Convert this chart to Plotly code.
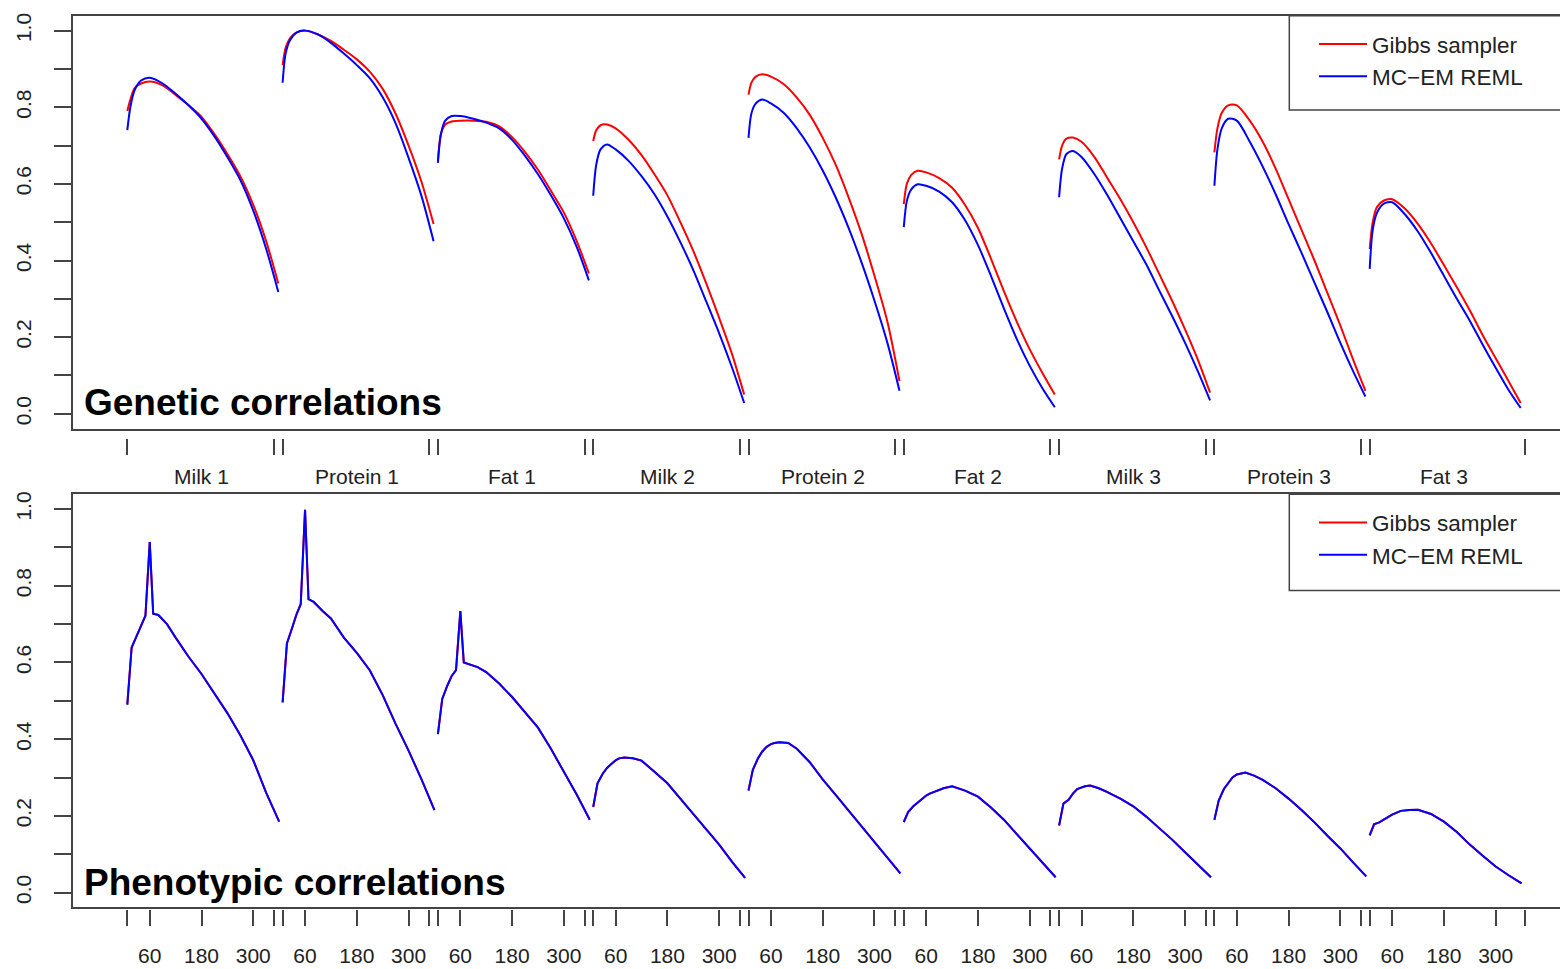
import plotly.graph_objects as go

# ---------------- data ----------------
traits = ["Milk 1", "Protein 1", "Fat 1", "Milk 2", "Protein 2", "Fat 2",
          "Milk 3", "Protein 3", "Fat 3"]
block = 360  # days per trait block on the shared x axis

gen_days = [8, 15, 25, 40, 60, 90, 120, 150, 180, 210, 240, 270, 300, 330, 358]

gen_gibbs = [
    [.79, .82, .85, .862, .867, .857, .832, .805, .775, .73, .678, .62, .545, .45, .34],
    [.91, .955, .98, .995, 1.0, .99, .973, .95, .925, .893, .848, .783, .70, .605, .495],
    [.66, .73, .755, .763, .765, .765, .762, .75, .722, .683, .637, .582, .525, .45, .366],
    [.712, .74, .753, .755, .745, .715, .675, .625, .57, .5, .425, .34, .25, .155, .05],
    [.833, .865, .88, .886, .88, .86, .825, .78, .72, .65, .565, .47, .36, .24, .085],
    [.547, .6, .623, .634, .63, .615, .59, .545, .485, .405, .32, .24, .168, .105, .05],
    [.664, .7, .718, .721, .71, .67, .615, .56, .5, .435, .365, .295, .22, .14, .055],
    [.682, .745, .785, .805, .805, .765, .71, .64, .56, .48, .4, .315, .23, .14, .06],
    [.43, .5, .54, .556, .56, .535, .495, .445, .388, .33, .27, .205, .145, .085, .028],
]

gen_mcem = [
    [.74, .80, .845, .87, .877, .862, .835, .805, .77, .724, .67, .61, .53, .43, .318],
    [.864, .94, .975, .995, 1.0, .99, .968, .94, .91, .876, .826, .758, .668, .568, .45],
    [.655, .73, .765, .777, .777, .77, .76, .745, .715, .673, .625, .57, .51, .435, .348],
    [.569, .65, .69, .703, .69, .66, .62, .573, .515, .448, .375, .293, .21, .12, .028],
    [.72, .785, .81, .82, .81, .785, .745, .695, .635, .565, .485, .395, .295, .185, .06],
    [.487, .555, .585, .599, .595, .58, .552, .505, .44, .36, .275, .195, .125, .065, .017],
    [.565, .64, .678, .686, .67, .625, .57, .51, .45, .39, .322, .255, .185, .11, .035],
    [.595, .69, .745, .77, .765, .71, .645, .573, .495, .42, .342, .265, .185, .11, .045],
    [.378, .48, .525, .548, .552, .52, .475, .42, .36, .3, .243, .18, .12, .062, .015],
]

phen_days = [8, 18, 30, 40, 50, 60, 68, 80, 100, 120, 150, 180, 210, 240, 270, 300, 330, 360]

phen_gibbs = [
    [.49, .639, .67, .695, .722, .914, .727, .724, .70, .665, .615, .57, .52, .468, .41, .345, .26, .185],
    [.496, .65, .69, .725, .752, .998, .765, .758, .735, .715, .665, .625, .58, .515, .44, .37, .295, .215],
    [.413, .505, .54, .565, .58, .734, .60, .595, .588, .575, .545, .51, .47, .43, .375, .315, .255, .19],
    [.223, .285, .31, .325, .335, .345, .35, .352, .35, .344, .315, .285, .245, .205, .168, .125, .08, .038],
    [.266, .32, .35, .368, .38, .387, .39, .392, .39, .375, .34, .295, .255, .214, .17, .13, .09, .05],
    [.184, .21, .225, .235, .245, .253, .258, .264, .272, .277, .266, .25, .222, .19, .153, .115, .078, .04],
    [.175, .232, .242, .258, .27, .274, .277, .279, .272, .262, .245, .225, .198, .168, .138, .105, .072, .04],
    [.19, .24, .27, .286, .3, .308, .31, .313, .305, .294, .272, .245, .215, .183, .148, .115, .078, .042],
    [.149, .178, .183, .19, .198, .203, .207, .213, .215, .216, .205, .185, .158, .125, .096, .068, .045, .024],
]

phen_mcem = [
    [.49, .639, .67, .695, .722, .914, .727, .724, .70, .665, .615, .57, .52, .468, .41, .345, .26, .185],
    [.496, .65, .69, .725, .752, .998, .765, .758, .735, .715, .665, .625, .58, .515, .44, .37, .295, .215],
    [.413, .505, .54, .565, .58, .734, .60, .595, .588, .575, .545, .51, .47, .43, .375, .315, .255, .19],
    [.223, .285, .31, .325, .335, .345, .35, .352, .35, .344, .315, .285, .245, .205, .168, .125, .08, .038],
    [.266, .32, .35, .368, .38, .387, .39, .392, .39, .375, .34, .295, .255, .214, .17, .13, .09, .05],
    [.184, .21, .225, .235, .245, .253, .258, .264, .272, .277, .266, .25, .222, .19, .153, .115, .078, .04],
    [.175, .232, .242, .258, .27, .274, .277, .279, .272, .262, .245, .225, .198, .168, .138, .105, .072, .04],
    [.19, .24, .27, .286, .3, .308, .31, .313, .305, .294, .272, .245, .215, .183, .148, .115, .078, .042],
    [.149, .178, .183, .19, .198, .203, .207, .213, .215, .216, .205, .185, .158, .125, .096, .068, .045, .024],
]

# axis ticks (day positions within each block)
labeled_days = [60, 180, 300]
block_start_day = 8
block_end_day = 348
name_day = 180
y_ticks = [0.0, 0.1, 0.2, 0.3, 0.4, 0.5, 0.6, 0.7, 0.8, 0.9, 1.0]
y_labels = ["0.0", "", "0.2", "", "0.4", "", "0.6", "", "0.8", "", "1.0"]

# ---------------- geometry ----------------
OFF = 8                      # browser body margin
W, H = 1568 - OFF, 969 - OFF
FONT = "Liberation Sans, Arial, Helvetica, sans-serif"
TXT = "#222222"
LINE = "#444444"
x_range = [-118.6, 3347.7]
y_range = [-0.039, 1.039]


def px_x(p):
    return (p - OFF) / W


def px_y(p):
    return 1 - (p - OFF) / H


def segs(days, rows):
    xs, ys = [], []
    for k, row in enumerate(rows):
        xs += [k * block + d for d in days] + [None]
        ys += list(row) + [None]
    return xs, ys


fig = go.Figure()

for rows, col, name in [(gen_gibbs, "red", "Gibbs sampler"), (gen_mcem, "blue", "MC\u2212EM REML")]:
    xs, ys = segs(gen_days, rows)
    fig.add_trace(go.Scatter(x=xs, y=ys, mode="lines", name=name,
                             line=dict(color=col, width=2, shape="spline", smoothing=0.8),
                             xaxis="x", yaxis="y", legend="legend", connectgaps=False))
for rows, col, name in [(phen_gibbs, "red", "Gibbs sampler"), (phen_mcem, "blue", "MC\u2212EM REML")]:
    xs, ys = segs(phen_days, rows)
    fig.add_trace(go.Scatter(x=xs, y=ys, mode="lines", name=name,
                             line=dict(color=col, width=2),
                             xaxis="x2", yaxis="y2", legend="legend2", connectgaps=False))

fig.add_trace(go.Scatter(x=[None], y=[None], xaxis="x3", yaxis="y", showlegend=False, hoverinfo="skip"))
fig.add_trace(go.Scatter(x=[None], y=[None], xaxis="x4", yaxis="y2", showlegend=False, hoverinfo="skip"))

n = len(traits)
boundary_ticks = [k * block + block_start_day for k in range(n + 1)] + \
                 [k * block + block_end_day for k in range(n - 1)]
bottom_vals = list(boundary_ticks)
bottom_text = [""] * len(boundary_ticks)
for k in range(n):
    for d in labeled_days:
        bottom_vals.append(k * block + d)
        bottom_text.append(str(d))

xdom = [px_x(72.7), 1.0]
top_dom = [px_y(427.0), px_y(12.7)]
bot_dom = [px_y(907.3), px_y(492.7)]

common_x = dict(domain=xdom, range=x_range, showgrid=False, zeroline=False,
                showline=True, mirror=True, linecolor=LINE, linewidth=1.5,
                ticks="", showticklabels=False)
common_y = dict(range=y_range, showgrid=False, zeroline=False, showline=True,
                linecolor=LINE, linewidth=1.5, tickmode="array", tickvals=y_ticks,
                ticktext=y_labels, ticks="outside", ticklen=17, tickwidth=1.5,
                tickcolor=LINE, tickangle=-90, ticklabelstandoff=15,
                tickfont=dict(family=FONT, size=21, color=TXT))

tick_axis = dict(range=x_range, showgrid=False, zeroline=False, showline=False,
                 anchor="free", ticks="outside", ticklen=16, tickwidth=1.5,
                 tickcolor=LINE, tickmode="array",
                 tickfont=dict(family=FONT, size=21, color=TXT))

leg_common = dict(xanchor="left", yanchor="top", borderwidth=0, bgcolor="rgba(0,0,0,0)",
                  font=dict(family=FONT, size=22.5, color=TXT), itemwidth=48,
                  indentation=0)

fig.update_layout(
    width=W, height=H,
    margin=dict(l=0, r=0, t=0, b=0),
    paper_bgcolor="white", plot_bgcolor="white",
    xaxis=dict(**common_x, anchor="y"),
    yaxis=dict(**common_y, domain=top_dom, anchor="x"),
    xaxis2=dict(**common_x, anchor="y2"),
    yaxis2=dict(**common_y, domain=bot_dom, anchor="x2"),
    xaxis3=dict(**tick_axis, overlaying="x", position=px_y(436.7),
                tickvals=boundary_ticks, ticktext=[""] * len(boundary_ticks)),
    xaxis4=dict(**tick_axis, overlaying="x2", position=px_y(909.0),
                tickvals=bottom_vals, ticktext=bottom_text, ticklabelstandoff=12),
    legend=dict(**leg_common, x=px_x(1314), y=px_y(20)),
    legend2=dict(**leg_common, x=px_x(1314), y=px_y(500)),
    showlegend=True,
)

# legend frames (opaque, running off the right edge like the reference)
shapes = []
for top, bot in [(12.7, 107.3), (492.7, 589.3)]:
    shapes.append(dict(type="rect", xref="paper", yref="paper",
                       x0=px_x(1289.3), x1=1.05, y0=px_y(bot), y1=px_y(top),
                       line=dict(color=LINE, width=1.5), fillcolor="white", layer="above"))
fig.update_layout(shapes=shapes)

annotations = []
for k, t in enumerate(traits):
    annotations.append(dict(x=k * block + name_day, y=px_y(475), xref="x", yref="paper",
                            text=t, showarrow=False, xanchor="center", yanchor="middle",
                            font=dict(family=FONT, size=21, color=TXT)))
annotations.append(dict(x=px_x(82), y=px_y(401), xref="paper", yref="paper",
                        text="<b>Genetic correlations</b>", showarrow=False,
                        xanchor="left", yanchor="middle",
                        font=dict(family=FONT, size=37, color="black")))
annotations.append(dict(x=px_x(82), y=px_y(882), xref="paper", yref="paper",
                        text="<b>Phenotypic correlations</b>", showarrow=False,
                        xanchor="left", yanchor="middle",
                        font=dict(family=FONT, size=37, color="black")))
fig.update_layout(annotations=annotations)

fig.write_html("out.html")
